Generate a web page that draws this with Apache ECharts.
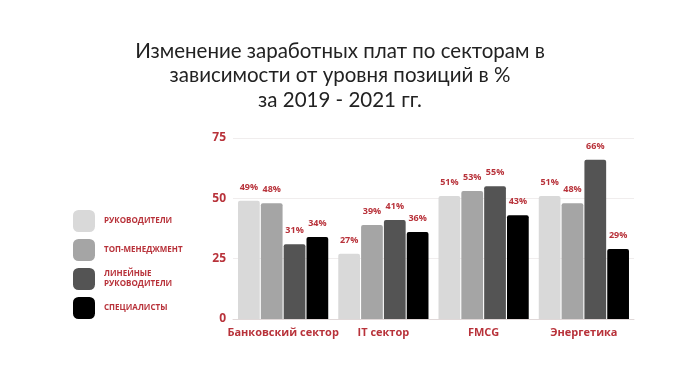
<!DOCTYPE html>
<html><head><meta charset="utf-8">
<script src="https://cdn.jsdelivr.net/npm/echarts@6/dist/echarts.min.js"></script>
<style>html,body{margin:0;padding:0;background:#fff}#c{width:680px;height:382px}</style>
</head><body><div id="c"></div>
<script>
const categories = ['Банковский сектор', 'IT сектор', 'FMCG', 'Энергетика'];
const seriesNames = ['РУКОВОДИТЕЛИ', 'ТОП-МЕНЕДЖМЕНТ', 'ЛИНЕЙНЫЕ\nРУКОВОДИТЕЛИ', 'СПЕЦИАЛИСТЫ'];
const managers = [49, 27, 51, 51];
const topManagement = [48, 39, 53, 48];
const lineManagers = [31, 41, 55, 66];
const specialists = [34, 36, 43, 29];
const yTicks = [0, 25, 50, 75];
const colors = ['#d9d9d9', '#a5a5a5', '#545454', '#000000'];
const red = '#b8323a';
const values = [managers, topManagement, lineManagers, specialists];

const chart = echarts.init(document.getElementById('c'), null, {renderer: 'canvas'});
chart.setOption({
  animation: false,
  title: {
    text: 'Изменение заработных плат по секторам в\nзависимости от уровня позиций в %\nза 2019 - 2021 гг.',
    left: 'center', top: 34,
    textStyle: {fontFamily: 'Lato', fontWeight: 'normal', fontSize: 20.5, lineHeight: 24.5, color: '#222'}
  },
  legend: {
    orient: 'vertical', left: 68, top: 205,
    itemWidth: 22, itemHeight: 22, itemGap: 7,
    icon: 'roundRect',
    data: seriesNames,
    textStyle: {color: red, fontSize: 8, fontWeight: 'bold', fontFamily: 'Open Sans', lineHeight: 10, padding: [0,0,0,4]},
    selectedMode: false
  },
  grid: {left: 233, right: 46, top: 138, bottom: 63},
  xAxis: {
    type: 'category', data: categories,
    axisLine: {lineStyle: {color: '#e0d8d8'}},
    axisTick: {show: false},
    axisLabel: {interval: 0, color: red, fontWeight: 'bold', fontSize: 11, fontFamily: 'Open Sans', margin: 8}
  },
  yAxis: {
    type: 'value', min: yTicks[0], max: yTicks[yTicks.length-1], interval: 25,
    axisLine: {show: false}, axisTick: {show: false},
    splitLine: {lineStyle: {color: '#f0eded'}},
    axisLabel: {color: red, fontWeight: 'bold', fontSize: 12, fontFamily: 'Open Sans', margin: 7}
  },
  series: seriesNames.map((n, i) => ({
    name: n, type: 'bar', data: values[i],
    barGap: '5%', barCategoryGap: '10%',
    itemStyle: {color: colors[i], borderRadius: [2,2,0,0]},
    label: {show: true, position: 'top', distance: 9, formatter: '{c}%', color: red, fontSize: 9, fontWeight: 'bold', fontFamily: 'Open Sans'}
  }))
});
</script></body></html>
